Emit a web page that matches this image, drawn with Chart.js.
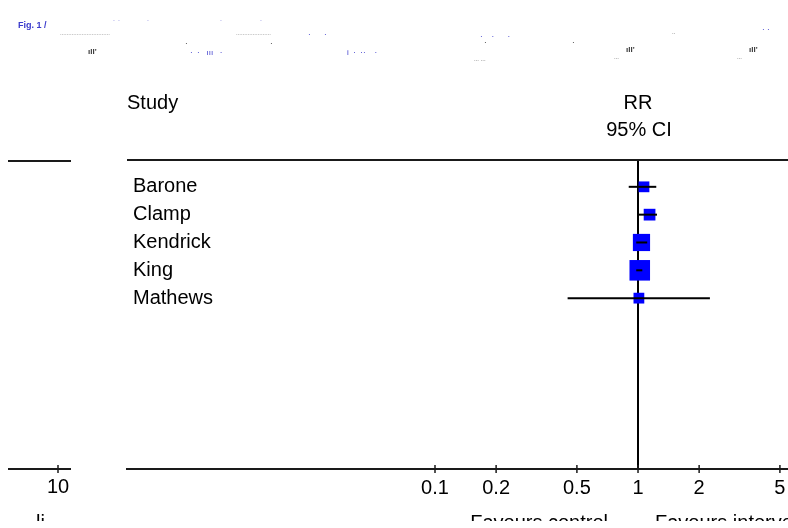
<!DOCTYPE html>
<html><head><meta charset="utf-8">
<script src="https://cdn.jsdelivr.net/npm/chart.js@4.4.1/dist/chart.umd.min.js"></script>
<style>html,body{margin:0;padding:0;background:#fff;overflow:hidden}canvas{display:block}</style>
</head><body>
<canvas id="c" width="788" height="528"></canvas>
<script>
// ---- data ----
const studies = ['Barone', 'Clamp', 'Kendrick', 'King', 'Mathews'];
const rr      = [1.07, 1.14, 1.04, 1.02, 1.01];
const ciLow   = [0.90, 1.01, 0.98, 0.98, 0.45];
const ciHigh  = [1.23, 1.24, 1.11, 1.05, 2.26];
const weights = [11, 13, 28, 40, 11];
const xTickValues = [0.1, 0.2, 0.5, 1, 2, 5];
const leftPanelTick = '10';
const headerStudy = 'Study';
const headerEffect = 'RR';
const headerCI = '95% CI';
const favoursLeft = 'Favours control';
const favoursRight = 'Favours intervention';

const FONT = '"Liberation Sans", Arial, sans-serif';

function ln(ctx, x1, y1, x2, y2) { ctx.beginPath(); ctx.moveTo(x1, y1); ctx.lineTo(x2, y2); ctx.stroke(); }

const deco = {
  id: 'deco',
  afterDraw(chart) {
    const { ctx, chartArea: a, scales: { x } } = chart;
    const one = x.getPixelForValue(1);
    ctx.save();
    ctx.strokeStyle = '#1a1a1a'; ctx.lineWidth = 2;
    // top rule of the plot panel and the clipped left panel
    ln(ctx, a.left, a.top, a.right, a.top);
    ln(ctx, 8, a.top + 1, 71, a.top + 1);
    ln(ctx, 8, a.bottom, 71, a.bottom);
    // crossing tick marks
    ctx.lineWidth = 1.5;
    xTickValues.forEach(v => { const px = x.getPixelForValue(v); ln(ctx, px, a.bottom - 4, px, a.bottom + 4); });
    ln(ctx, 58, a.bottom - 4, 58, a.bottom + 4);
    // header texts
    ctx.fillStyle = '#000';
    ctx.font = '20px ' + FONT;
    ctx.textBaseline = 'middle';
    ctx.textAlign = 'left';
    ctx.fillText(headerStudy, a.left, a.top - 57);
    ctx.textAlign = 'center';
    ctx.fillText(headerEffect, one, a.top - 57);
    ctx.fillText(headerCI, one + 1, a.top - 30);
    ctx.fillText(leftPanelTick, 58, a.bottom + 18);
    // bottom captions (clipped by the picture edge band)
    ctx.save();
    ctx.beginPath(); ctx.rect(0, 0, chart.width, 521); ctx.clip();
    ctx.textBaseline = 'top';
    ctx.textAlign = 'right';
    ctx.fillText(favoursLeft, one - 30, 513);
    ctx.textAlign = 'left';
    ctx.fillText(favoursRight, one + 17, 513);
    ctx.fillText('li', 36, 513);
    ctx.restore();
    // faint, illegible header strip at the top
    const frags = [
      ['Fig. 1 /', 18, 26, '#3a3acc', 'bold 9px'],
      ['\u02d9 \u02d9', 113, 24, '#3a3acc', '8px'],
      ['\u02d9', 147, 24, '#3a3acc', '8px'],
      ['\u02d9', 220, 24, '#3a3acc', '8px'],
      ['\u02d9', 260, 24, '#3a3acc', '8px'],
      ['..............................', 60, 33, '#555', '6px'],
      ['.....................', 236, 33, '#555', '6px'],
      ['\u00b7      \u00b7', 308, 35, '#3a3acc', '8px'],
      ['\u00b7    \u00b7      \u00b7', 480, 37, '#3a3acc', '8px'],
      ['\u0131ll\'', 88, 52, '#333', 'bold 8px'],
      ['\u0131ll\'', 626, 50, '#333', 'bold 8px'],
      ['\u0131ll\'', 749, 50, '#333', 'bold 8px'],
      ['\u00b7  \u00b7   \u0131\u0131\u0131   \u00b7', 190, 53, '#3a3acc', '8px'],
      ['\u00b7', 185, 44, '#333', '8px'],
      ['\u00b7', 270, 44, '#333', '8px'],
      ['\u00b7', 484, 43, '#333', '8px'],
      ['\u00b7', 572, 43, '#333', '8px'],
      ['i  \u00b7  \u00b7\u00b7    \u00b7', 347, 53, '#3a3acc', '8px'],
      ['... ...', 474, 59, '#333', '6px'],
      ['...', 614, 57, '#333', '6px'],
      ['...', 737, 57, '#333', '6px'],
      ['..', 672, 32, '#333', '6px'],
      ['\u00b7 \u00b7', 762, 30, '#3a3acc', '8px']
    ];
    ctx.textAlign = 'left'; ctx.textBaseline = 'middle';
    frags.forEach(f => { ctx.fillStyle = f[3]; ctx.font = f[4] + ' ' + FONT; ctx.fillText(f[0], f[1], f[2]); });
    ctx.restore();
  }
};

const squares = {
  type: 'scatter',
  label: 'RR',
  data: rr.map((v, i) => ({ x: v, y: i })),
  pointStyle: 'rect',
  pointRadius: weights.map(w => 3.25 * Math.sqrt(w) / Math.SQRT2),
  backgroundColor: '#0000ff',
  borderColor: '#0000ff',
  borderWidth: 0,
  order: 2
};
const ciLines = studies.map((s, i) => ({
  type: 'scatter',
  label: s + ' 95% CI',
  data: [{ x: ciLow[i], y: i }, { x: ciHigh[i], y: i }],
  showLine: true,
  borderColor: '#000',
  borderWidth: 2,
  pointRadius: 0,
  order: 1
}));

new Chart(document.getElementById('c'), {
  type: 'scatter',
  data: { datasets: [squares, ...ciLines] },
  options: {
    responsive: false,
    animation: false,
    events: [],
    layout: { autoPadding: false, padding: { left: 115, right: 0, top: 160, bottom: 21 } },
    plugins: { legend: { display: false }, tooltip: { enabled: false } },
    scales: {
      x: {
        type: 'logarithmic',
        min: 0.00304, max: 5.48,
        afterBuildTicks: s => { s.ticks = xTickValues.map(v => ({ value: v })); },
        afterFit: s => { s.paddingLeft = 0; s.paddingRight = 0; },
        ticks: {
          autoSkip: false, maxRotation: 0, minRotation: 0, padding: 7,
          color: '#000', font: { family: FONT, size: 20 },
          callback: v => String(v)
        },
        grid: {
          drawTicks: false, lineWidth: 2,
          color: c => (c.tick && c.tick.value === 1) ? '#000' : 'rgba(0,0,0,0)'
        },
        border: { display: true, color: '#1a1a1a', width: 2 }
      },
      y: {
        type: 'linear', reverse: true,
        min: -0.964, max: 10.14,
        afterBuildTicks: s => { s.ticks = studies.map((_, i) => ({ value: i })); },
        ticks: {
          mirror: true, padding: 6, color: '#000', font: { family: FONT, size: 20 },
          callback: v => studies[v]
        },
        grid: { display: false, drawTicks: false },
        border: { display: false }
      }
    }
  },
  plugins: [deco]
});
</script>
</body></html>
